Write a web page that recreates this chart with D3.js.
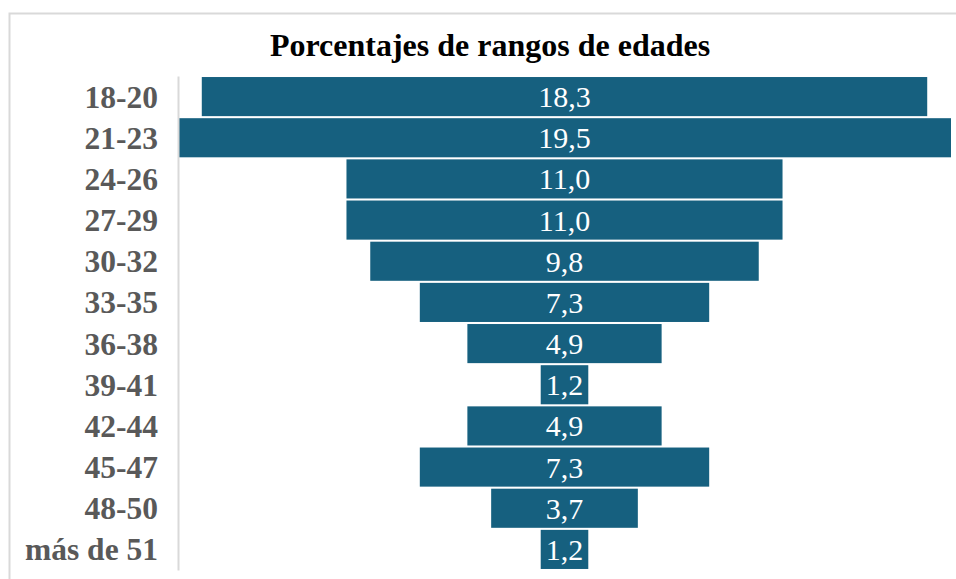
<!DOCTYPE html>
<html>
<head>
<meta charset="utf-8">
<script src="https://cdn.jsdelivr.net/npm/d3@7"></script>
<style>
  body { margin: 0; background: #fff; }
  svg { display: block; }
</style>
</head>
<body>
<svg id="chart" width="956" height="579"></svg>
<script>
var categories = ['18-20', '21-23', '24-26', '27-29', '30-32', '33-35', '36-38', '39-41', '42-44', '45-47', '48-50', 'más de 51'];
var values = [18.3, 19.5, 11.0, 11.0, 9.8, 7.3, 4.9, 1.2, 4.9, 7.3, 3.7, 1.2];
var chartTitle = 'Porcentajes de rangos de edades';

var svg = d3.select('#chart');
var axisX = 178, centerX = 564.5;

// outer frame, the right and bottom edges fall outside the picture
svg.append('rect')
	.attr('x', 9.5).attr('y', 13.5)
	.attr('width', 980).attr('height', 600)
	.attr('fill', 'none')
	.attr('stroke', '#d9d9d9')
	.attr('stroke-width', 2);

var y = d3.scaleBand()
	.domain(categories)
	.range([76, 570])
	.paddingInner(0.05)
	.paddingOuter(0.025);

// half width on each side of the centre line
var w = d3.scaleLinear()
	.domain([0, 19.5])
	.range([0, centerX - axisX]);

svg.append('text')
	.attr('x', 490)
	.attr('y', 56)
	.attr('text-anchor', 'middle')
	.style('font-family', '"Liberation Serif", "Times New Roman", serif')
	.style('font-weight', 'bold')
	.style('font-size', '32px')
	.attr('fill', '#000')
	.text(chartTitle);

var rows = svg.append('g').selectAll('g')
	.data(categories)
	.enter()
	.append('g');

rows.append('rect')
	.attr('x', function (d, i) { return centerX - w(values[i]); })
	.attr('y', function (d) { return y(d); })
	.attr('width', function (d, i) { return 2 * w(values[i]); })
	.attr('height', y.bandwidth())
	.attr('fill', '#16607f');

rows.append('text')
	.attr('x', centerX)
	.attr('y', function (d) { return y(d) + y.bandwidth() / 2; })
	.attr('dy', '0.35em')
	.attr('text-anchor', 'middle')
	.style('font-family', '"Liberation Serif", "Times New Roman", serif')
	.style('font-size', '30px')
	.attr('fill', '#fff')
	.text(function (d, i) { return values[i].toFixed(1).replace('.', ','); });

// category axis
var axis = svg.append('g')
	.attr('transform', 'translate(' + axisX + ',0)')
	.call(d3.axisLeft(y).tickSize(0).tickPadding(20));
axis.select('.domain').attr('stroke', '#d9d9d9').attr('stroke-width', 2);
axis.selectAll('text')
	.attr('dy', '0.35em')
	.style('font-family', '"Liberation Serif", "Times New Roman", serif')
	.style('font-weight', 'bold')
	.style('font-size', '31.5px')
	.attr('fill', '#595959');
</script>
</body>
</html>
